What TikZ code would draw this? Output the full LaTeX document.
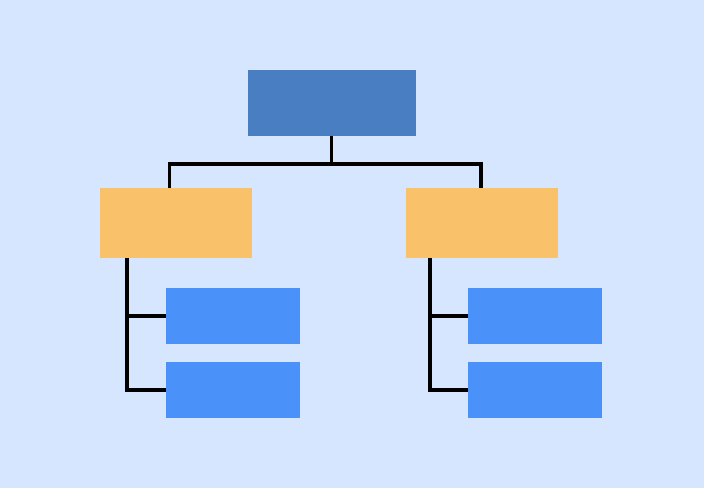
\documentclass[tikz,border=0pt]{standalone}
\definecolor{bg}{HTML}{D6E6FE}
\definecolor{topc}{HTML}{4A7EC2}
\definecolor{midc}{HTML}{F9C26A}
\definecolor{leafc}{HTML}{4A91F9}
\begin{document}
\begin{tikzpicture}[x=1pt,y=-1pt,
  box/.style={draw=none,inner sep=0pt,outer sep=0pt,anchor=north west},
  topbox/.style={box,fill=topc,minimum width=168pt,minimum height=66pt},
  midbox/.style={box,fill=midc,minimum width=152pt,minimum height=70pt},
  leafbox/.style={box,fill=leafc,minimum width=134pt,minimum height=56pt},
  conn/.style={draw=black,line width=3.6pt,line join=miter}]
\fill[bg] (0,0) rectangle (704,488);
\useasboundingbox (0,0) rectangle (704,488);
\node[topbox] (t) at (248,70) {};
\node[midbox] (l) at (100,188) {};
\node[midbox] (r) at (406,188) {};
\node[leafbox] (l1) at (166,288) {};
\node[leafbox] (l2) at (166,362) {};
\node[leafbox] (r1) at (468,288) {};
\node[leafbox] (r2) at (468,362) {};
\coordinate (j) at (331.5,164);
\draw[conn] ([xshift=-0.5pt]t.south) -- (j);
\draw[conn] ([xshift=-6.5pt]l.north) |- (j) -| ([xshift=-1pt]r.north);
\draw[conn] ([xshift=27pt]l.south west) |- (l2.west);
\draw[conn] ([xshift=27pt]l.south west |- l1.west) -- (l1.west);
\draw[conn] ([xshift=24pt]r.south west) |- (r2.west);
\draw[conn] ([xshift=24pt]r.south west |- r1.west) -- (r1.west);
\end{tikzpicture}
\end{document}
